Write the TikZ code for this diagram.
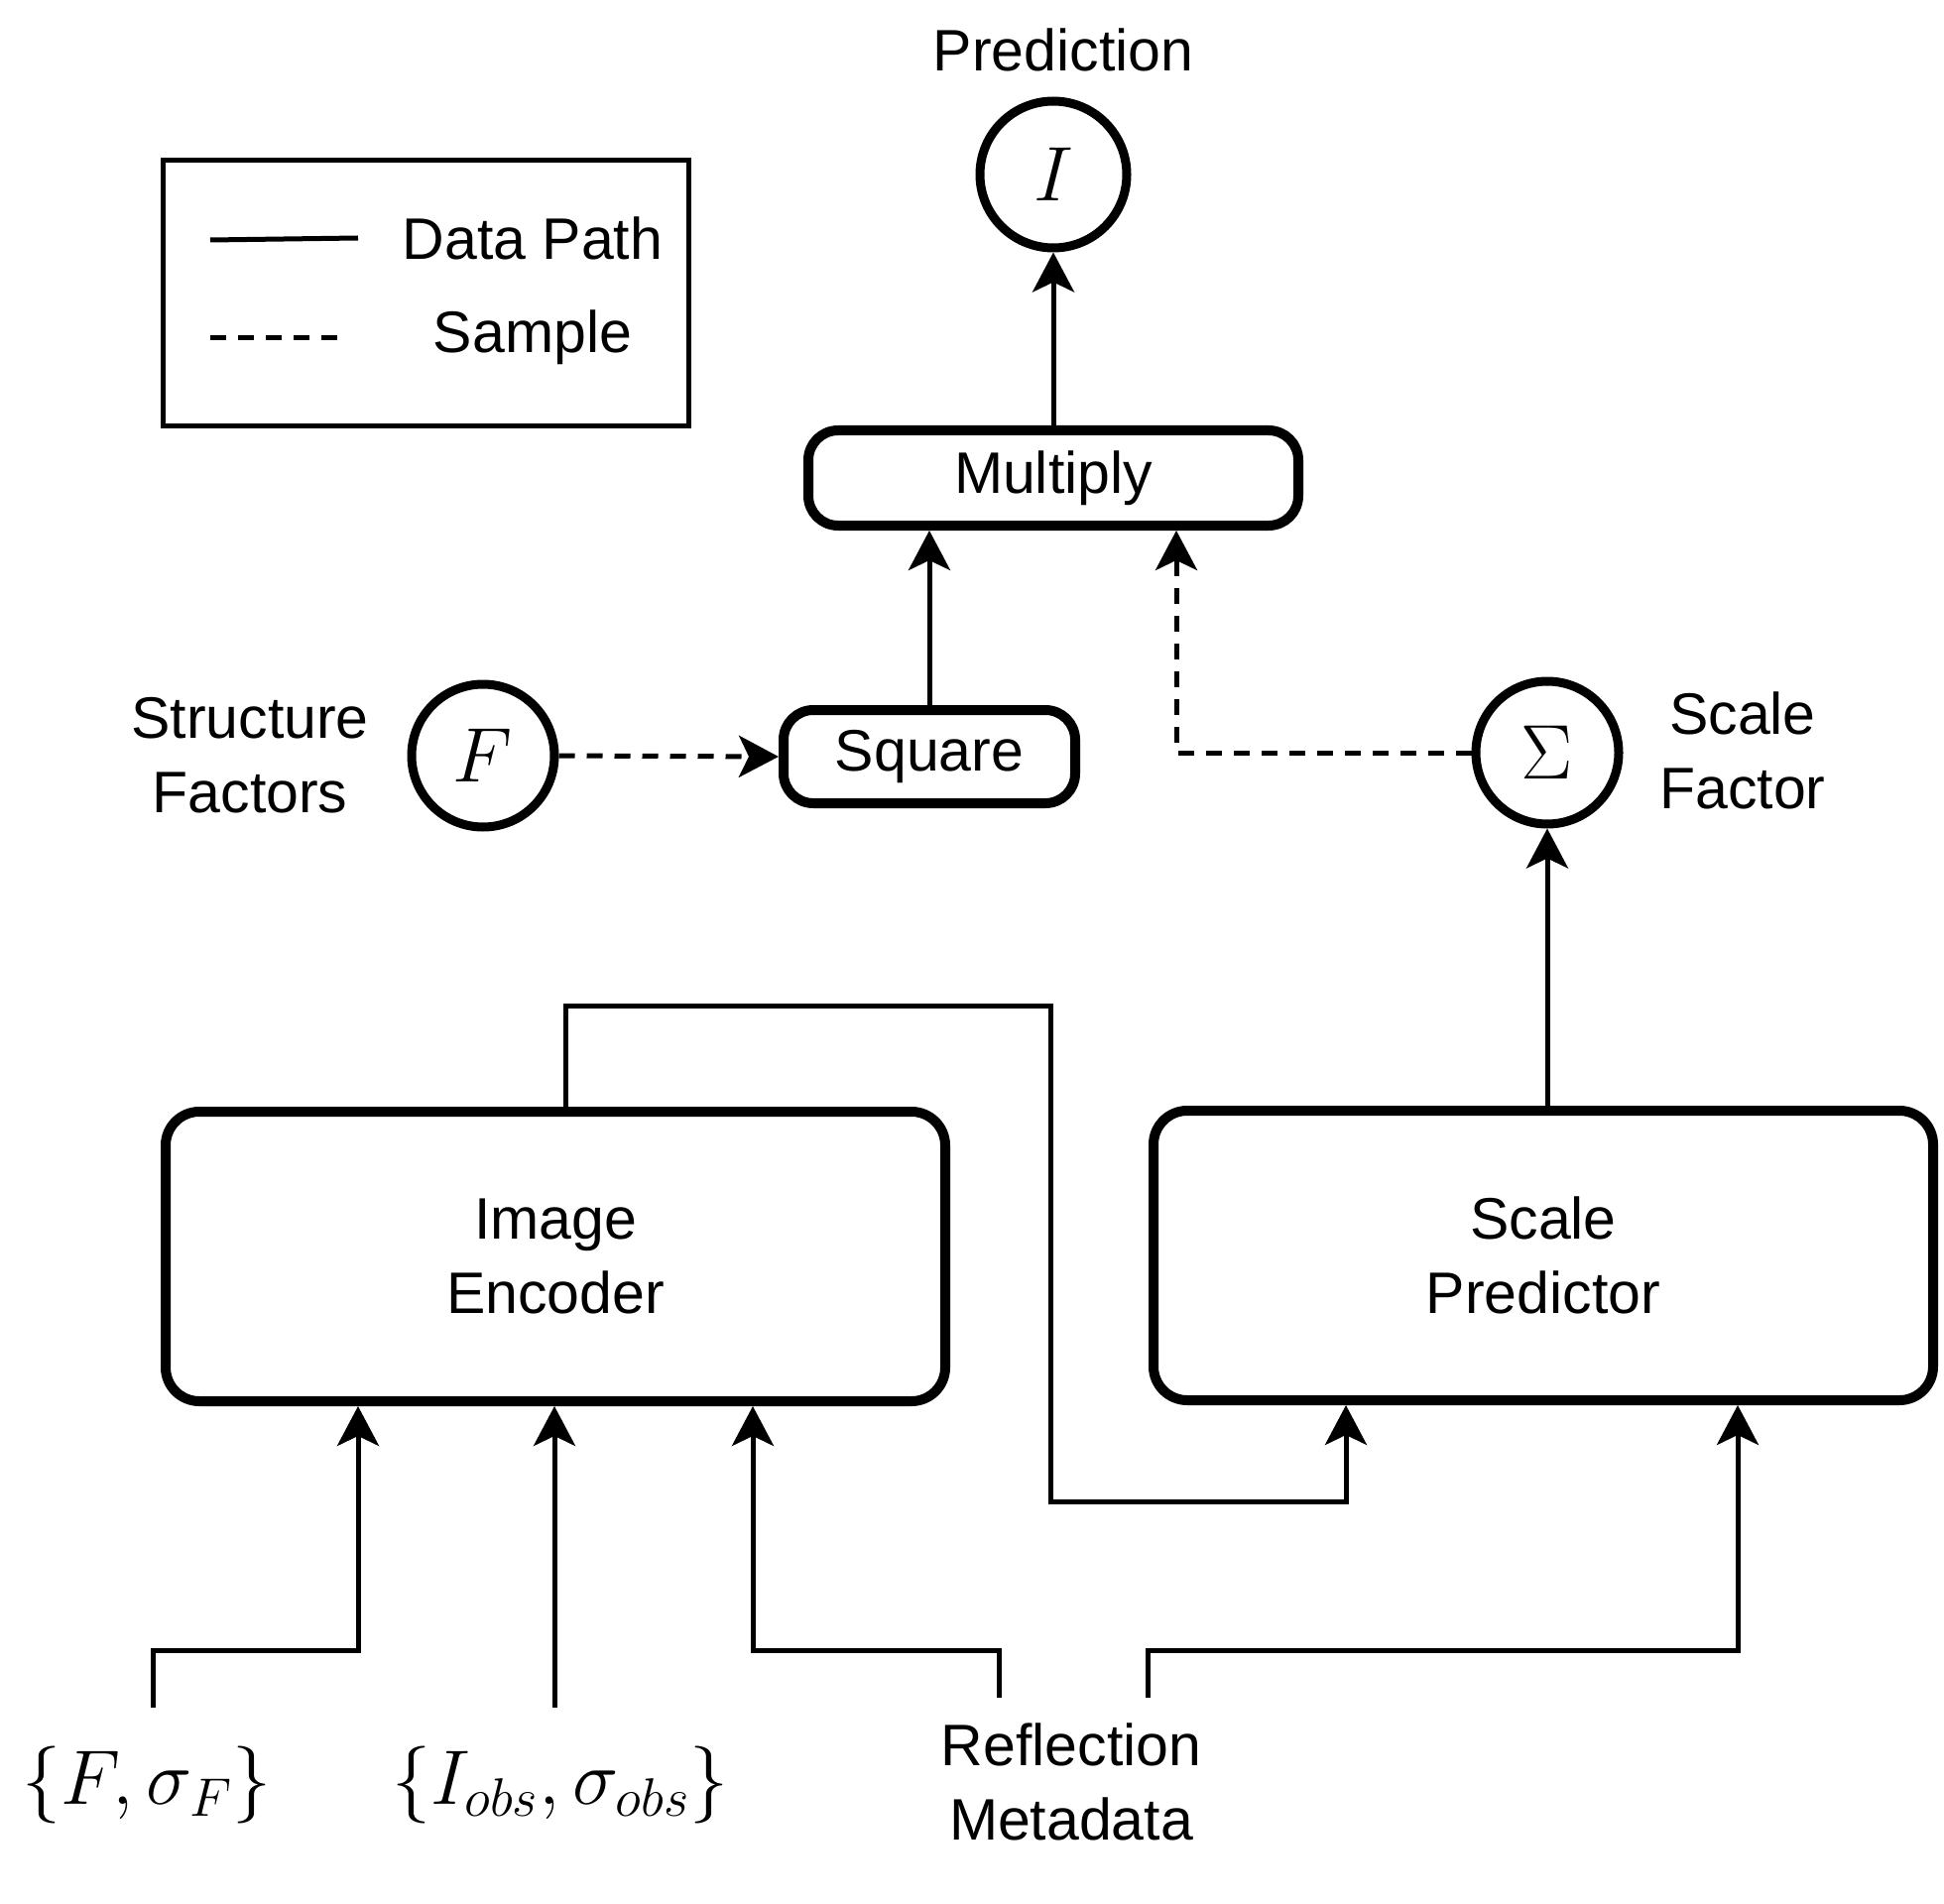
\documentclass[tikz,border=0pt]{standalone}
\usepackage{fix-cm}
\usepackage[no-math]{fontspec}
\setmainfont{Liberation Sans}
\usetikzlibrary{arrows.meta}
\begin{document}
\begin{tikzpicture}[x=0.5pt,y=-0.5pt,
  every node/.style={font=\fontsize{29.5}{37.5}\selectfont, inner sep=0pt},
  blk/.style={draw, line width=5pt, rounded corners=15pt, align=center},
  bigblk/.style={blk, rounded corners=17pt, minimum width=393pt, minimum height=146pt},
  circ/.style={draw, circle, line width=4.5pt, minimum size=72pt},
  mathtxt/.style={font=\fontsize{39}{46}\selectfont},
  conn/.style={line width=2.5pt, -{Stealth[length=20pt,width=21pt,inset=5pt]}},
  plain/.style={line width=2.5pt},
  dsh/.style={dash pattern=on 8pt off 6pt},
  lbl/.style={align=center}
]
\useasboundingbox (0,0) rectangle (1960,1920);

% legend
\node[draw, line width=2.5pt, minimum width=265pt, minimum height=134pt] (legend) at (429.5,295.5) {};
\coordinate (l1a) at (212,242); \coordinate (l1b) at (361,240);
\coordinate (l2a) at (212,341); \coordinate (l2b) at (350,341);
\draw[plain] (l1a) -- (l1b);
\draw[plain, dsh] (l2a) -- (l2b);
\node (dp) at (537,240) {Data Path};
\node (smp) at (537,340) {Sample};

% top part
\node (predl) at (1072,50) {Prediction};
\node[circ, mathtxt, minimum size=74pt] (pred) at (1062,176) {$I$};
\node[blk, minimum width=247pt, minimum height=48pt] (mul) at (1062,482) {Multiply};
\node[blk, minimum width=147pt, minimum height=47pt] (sq) at (937,763) {Square};
\node[circ, mathtxt] (fc) at (487,762) {$F$};
\node[lbl] (sfl) at (252,762) {Structure\\Factors};
\node[circ, mathtxt] (sig) at (1560,759) {$\Sigma$};
\node[lbl] (scl) at (1757,757) {Scale\\Factor};

% big boxes
\node[bigblk] (ie) at (560,1267) {Image\\Encoder};
\node[bigblk] (sp) at (1556,1266) {Scale\\Predictor};

% bottom labels
\node[mathtxt] (fs) at (148,1800) {$\{F,\sigma_F\}$};
\node[mathtxt] (io) at (565,1800) {$\{I_{obs},\sigma_{obs}\}$};
\node[lbl] (rm) at (1080,1797) {Reflection\\Metadata};

% helper coordinates
\coordinate (xMd) at (1186,0);
\coordinate (xE) at (570,0);
\coordinate (xA) at (1357,0);
\coordinate (x1) at (361,0);
\coordinate (x3) at (759,0);
\coordinate (x4) at (1752,0);
\coordinate (s1) at (154,1722);
\coordinate (s2) at (559,1722);
\coordinate (s3) at (1007,1712);
\coordinate (s4) at (1157,1712);

% connectors
\draw[conn] (mul.north) -- (pred.south);
\draw[conn] (sq.north) -- (sq.north |- mul.south);
\draw[conn, dsh] (fc.east) -- (sq.west);
\draw[conn, dsh] (sig.west) -| (xMd |- mul.south);
\draw[conn] (sig.south |- sp.north) -- (sig.south);
\draw[conn] (xE |- ie.north) -- (570,1014) -- (1059,1014) -- (1059,1514) -- (1357,1514) -- (xA |- sp.south);

\draw[conn] (s1) -- (154,1664) -| (x1 |- ie.south);
\draw[conn] (s2) -- (s2 |- ie.south);
\draw[conn] (s3) -- (1007,1664) -| (x3 |- ie.south);
\draw[conn] (s4) -- (1157,1664) -| (x4 |- sp.south);
\end{tikzpicture}
\end{document}
